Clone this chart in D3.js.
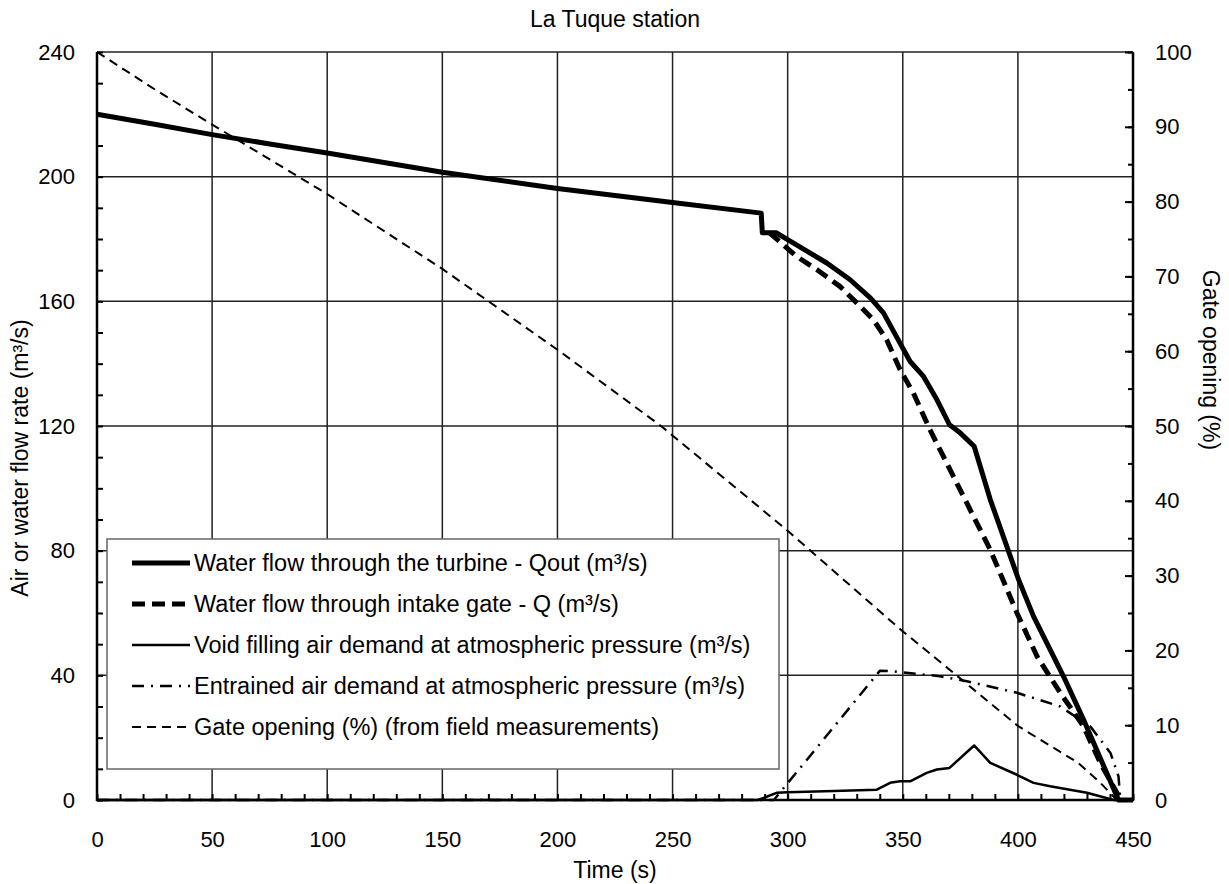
<!DOCTYPE html>
<html>
<head>
<meta charset="utf-8">
<script src="https://cdn.jsdelivr.net/npm/d3@7"></script>
<style>
  body { margin: 0; background: #fff; }
  svg { font-family: "Liberation Sans", Arial, sans-serif; }
</style>
</head>
<body>
<div id="chart"></div>
<script>
// time series (s)
var qoutTime = [0, 25, 50, 75, 100, 150, 200, 250, 288.5, 289, 295, 300, 317, 327, 336, 341.6, 348.8, 353.2, 359, 364.8, 370.3, 374.9, 381, 388, 400.3, 406.8, 419.8, 428.5, 443.7, 450];
var qoutValues = [220, 216.8, 213.5, 210.5, 207.6, 201.4, 196.2, 191.7, 188.3, 182, 182, 179.8, 172.3, 167, 161, 156.3, 146.6, 140.7, 135.9, 128.5, 120.4, 117.8, 113.5, 96.4, 70.7, 58.9, 39.7, 25.8, 0, 0];

var qTime = [292, 293, 303.9, 312.6, 322.7, 330, 337.2, 343, 348.8, 354.6, 361.8, 369.1, 377.8, 388, 399.6, 408.3, 418.4, 428.5, 435.8, 443, 445];
var qValues = [182, 181.4, 174.4, 170.2, 164.8, 159.5, 154.1, 147.7, 138.1, 130.6, 118.8, 108.1, 95.3, 80.3, 60, 46.1, 34.4, 23.6, 11.9, 2.3, 0];

var voidTime = [0, 287, 290, 295.2, 300, 320, 338.7, 344.5, 348.8, 353.2, 360.4, 364.8, 370.3, 381, 388, 399.6, 406.8, 414, 430, 441.6, 450];
var voidValues = [0, 0, 0.8, 2.3, 2.5, 2.9, 3.3, 5.5, 6, 6, 8.7, 9.8, 10.3, 17.5, 11.9, 8.1, 5.5, 4.4, 2.3, 0, 0];

var entrTime = [0, 294, 340.1, 345.9, 366.2, 377.8, 399.6, 418.4, 431.5, 440.2, 443.7, 444.5, 450];
var entrValues = [0, 0, 41.5, 41.3, 39.7, 38.1, 34.4, 30, 23.6, 15.1, 7.6, 0, 0];

var gateTime = [0, 25.6, 50, 100, 150, 200, 245, 300, 349, 372, 400, 426, 435.8, 443, 450];
var gateValues = [100, 94.9, 90.3, 81, 71, 60.2, 50, 36, 22.8, 17, 9.9, 5, 2.3, 0, 0];

var xTicks = [0, 50, 100, 150, 200, 250, 300, 350, 400, 450];
var yLeftTicks = [0, 40, 80, 120, 160, 200, 240];
var yRightTicks = [0, 10, 20, 30, 40, 50, 60, 70, 80, 90, 100];

var legendLabels = [
  'Water flow through the turbine - Qout (m³/s)',
  'Water flow through intake gate - Q (m³/s)',
  'Void filling air demand at atmospheric pressure (m³/s)',
  'Entrained air demand at atmospheric pressure (m³/s)',
  'Gate opening (%) (from field measurements)'
];

var W = 1229, H = 884;
var mLeft = 97, mRight = 1133, mTop = 52, mBottom = 800;

var svg = d3.select('#chart').append('svg')
  .attr('width', W)
  .attr('height', H);

var x = d3.scaleLinear().domain([0, 450]).range([mLeft, mRight]);
var yL = d3.scaleLinear().domain([0, 240]).range([mBottom, mTop]);
var yR = d3.scaleLinear().domain([0, 100]).range([mBottom, mTop]);

// grid
svg.append('g').selectAll('line').data(yLeftTicks.slice(1)).join('line')
  .attr('x1', mLeft).attr('x2', mRight)
  .attr('y1', d => yL(d)).attr('y2', d => yL(d))
  .attr('stroke', '#222').attr('stroke-width', 1.5);
svg.append('g').selectAll('line').data(xTicks.slice(1)).join('line')
  .attr('x1', d => x(d)).attr('x2', d => x(d))
  .attr('y1', mTop).attr('y2', mBottom)
  .attr('stroke', '#222').attr('stroke-width', 1.5);

// minor ticks
var minorX = svg.append('g').attr('transform', 'translate(0,' + mBottom + ')')
  .call(d3.axisBottom(x).tickValues(d3.range(0, 451, 10)).tickSize(-6).tickFormat(''));
var minorL = svg.append('g').attr('transform', 'translate(' + mLeft + ',0)')
  .call(d3.axisLeft(yL).tickValues(d3.range(0, 241, 10)).tickSize(-6).tickFormat(''));
var minorR = svg.append('g').attr('transform', 'translate(' + mRight + ',0)')
  .call(d3.axisRight(yR).tickValues(d3.range(0, 101, 5)).tickSize(-5).tickFormat(''));
var majorR = svg.append('g').attr('transform', 'translate(' + mRight + ',0)')
  .call(d3.axisRight(yR).tickValues(yRightTicks).tickSize(-8).tickFormat(''));
[minorX, minorL, minorR, majorR].forEach(function (g) {
  g.select('.domain').remove();
  g.selectAll('.tick line').attr('stroke', '#000').attr('stroke-width', 2);
});

// tick labels
var fs = 22;
var xLab = svg.append('g').attr('transform', 'translate(0,' + mBottom + ')')
  .call(d3.axisBottom(x).tickValues(xTicks).tickSize(0).tickPadding(31));
var lLab = svg.append('g').attr('transform', 'translate(' + mLeft + ',0)')
  .call(d3.axisLeft(yL).tickValues(yLeftTicks).tickSize(0).tickPadding(22));
var rLab = svg.append('g').attr('transform', 'translate(' + mRight + ',0)')
  .call(d3.axisRight(yR).tickValues(yRightTicks).tickSize(0).tickPadding(22));
[xLab, lLab, rLab].forEach(function (g) {
  g.select('.domain').remove();
  g.selectAll('text').attr('font-size', fs).attr('fill', '#000')
    .attr('font-family', '"Liberation Sans", Arial, sans-serif');
});

// axis lines
svg.append('line').attr('x1', mLeft).attr('x2', mLeft).attr('y1', mTop).attr('y2', mBottom + 1)
  .attr('stroke', '#000').attr('stroke-width', 2.5);
svg.append('line').attr('x1', mRight).attr('x2', mRight).attr('y1', mTop).attr('y2', mBottom + 1)
  .attr('stroke', '#000').attr('stroke-width', 2.5);
svg.append('line').attr('x1', mLeft - 1).attr('x2', mRight + 1).attr('y1', mBottom).attr('y2', mBottom)
  .attr('stroke', '#000').attr('stroke-width', 2.5);

// series
var styles = [
  { w: 5, dash: null },
  { w: 5, dash: '13,7' },
  { w: 2.5, dash: null },
  { w: 2.5, dash: '12,7,2,7' },
  { w: 2, dash: '9,6' }
];

function pts(t, v) { return t.map(function (d, i) { return [d, v[i]]; }); }

var lineL = d3.line().x(d => x(d[0])).y(d => yL(d[1]));
var lineR = d3.line().x(d => x(d[0])).y(d => yR(d[1]));

var series = [
  { data: pts(qoutTime, qoutValues), gen: lineL },
  { data: pts(qTime, qValues), gen: lineL },
  { data: pts(voidTime, voidValues), gen: lineL },
  { data: pts(entrTime, entrValues), gen: lineL },
  { data: pts(gateTime, gateValues), gen: lineR }
];

var drawOrder = [4, 3, 2, 1, 0];
drawOrder.forEach(function (i) {
  var s = series[i];
  svg.append('path')
    .attr('d', s.gen(s.data))
    .attr('fill', 'none')
    .attr('stroke', '#000')
    .attr('stroke-width', styles[i].w)
    .attr('stroke-dasharray', styles[i].dash)
    .attr('stroke-linejoin', 'round');
});

// legend
var lg = svg.append('g');
lg.append('rect')
  .attr('x', 107).attr('y', 539).attr('width', 672).attr('height', 230)
  .attr('fill', '#fff').attr('stroke', '#666').attr('stroke-width', 1.5);
legendLabels.forEach(function (lab, i) {
  var yy = 563 + i * 41;
  lg.append('line')
    .attr('x1', 132).attr('x2', 190).attr('y1', yy).attr('y2', yy)
    .attr('stroke', '#000')
    .attr('stroke-width', styles[i].w)
    .attr('stroke-dasharray', styles[i].dash);
  lg.append('text')
    .attr('x', 194).attr('y', yy + 8)
    .attr('font-size', 23.5)
    .text(lab);
});

// titles
svg.append('text')
  .attr('x', 615).attr('y', 27)
  .attr('text-anchor', 'middle').attr('font-size', 23)
  .text('La Tuque station');
svg.append('text')
  .attr('x', 615).attr('y', 878)
  .attr('text-anchor', 'middle').attr('font-size', 23)
  .text('Time (s)');
svg.append('text')
  .attr('transform', 'translate(28,458) rotate(-90)')
  .attr('text-anchor', 'middle').attr('font-size', 23)
  .text('Air or water flow rate (m³/s)');
svg.append('text')
  .attr('transform', 'translate(1203,360) rotate(90)')
  .attr('text-anchor', 'middle').attr('font-size', 23)
  .text('Gate opening (%)');
</script>
</body>
</html>
